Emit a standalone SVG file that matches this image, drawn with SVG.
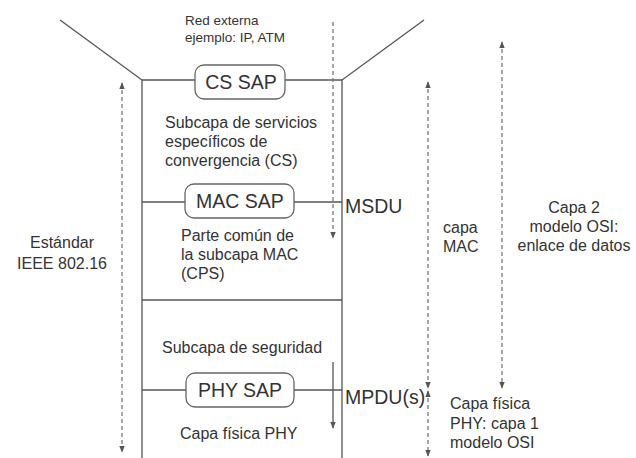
<svg xmlns="http://www.w3.org/2000/svg" width="636" height="458" viewBox="0 0 636 458">
<style>
.ln{stroke:#555;stroke-width:1.3;fill:none}
.sap{fill:#fff;stroke:#666;stroke-width:1.3}
.dash{stroke:#777;stroke-width:1.3;stroke-dasharray:4 3;fill:none}
text{font-family:"Liberation Sans",Arial,sans-serif;fill:#333}
.t16{font-size:16px}
.t12{font-size:13.5px}
.big{font-size:19.5px}
</style>
<defs>
<marker id="ah" viewBox="0 0 10 10" refX="9" refY="5" markerWidth="7" markerHeight="7" orient="auto-start-reverse" markerUnits="userSpaceOnUse">
<path d="M0,1 L10,5 L0,9 Z" fill="#555"/>
</marker>
</defs>
<g id="stack">
<path class="ln" d="M60,20 L142,80 L142,458"/>
<path class="ln" d="M424,20 L342,80 L342,458"/>
<line class="ln" x1="142" y1="80" x2="342" y2="80"/>
<line class="ln" x1="142" y1="202" x2="342" y2="202"/>
<line class="ln" x1="142" y1="300" x2="342" y2="300"/>
<line class="ln" x1="142" y1="390" x2="342" y2="390"/>
</g>
<g id="connectors">
<line class="dash" x1="333" y1="22" x2="333" y2="238" stroke-dasharray="6 2 1 2" marker-end="url(#ah)"/>
<line class="ln" x1="333" y1="362" x2="333" y2="428" marker-end="url(#ah)"/>
<line class="dash" x1="122" y1="83" x2="122" y2="452" marker-start="url(#ah)" marker-end="url(#ah)"/>
<line class="dash" x1="428" y1="82" x2="428" y2="388" marker-start="url(#ah)" marker-end="url(#ah)"/>
<line class="dash" x1="428" y1="391" x2="428" y2="456" marker-start="url(#ah)" marker-end="url(#ah)"/>
<line class="dash" x1="502" y1="42" x2="502" y2="388" marker-start="url(#ah)" marker-end="url(#ah)"/>
</g>
<g id="red-externa">
<text class="t12" x="185" y="25">Red externa</text>
<text class="t12" x="185" y="42">ejemplo: IP, ATM</text>
</g>
<g id="cs-sap">
<rect class="sap" x="195" y="65" width="90" height="34" rx="9"/>
<text class="big" x="241" y="89" text-anchor="middle">CS SAP</text>
</g>
<g id="cs">
<text class="t16" x="165" y="128">Subcapa de servicios</text>
<text class="t16" x="165" y="147">específicos de</text>
<text class="t16" x="165" y="166">convergencia (CS)</text>
</g>
<g id="mac-sap">
<rect class="sap" x="185" y="184" width="109" height="34" rx="9"/>
<text class="big" x="240" y="208" text-anchor="middle">MAC SAP</text>
</g>
<g id="msdu"><text class="big" x="345" y="213">MSDU</text></g>
<g id="cps">
<text class="t16" x="181" y="241">Parte común de</text>
<text class="t16" x="181" y="260">la subcapa MAC</text>
<text class="t16" x="181" y="279">(CPS)</text>
</g>
<g id="seguridad"><text class="t16" x="162" y="353">Subcapa de seguridad</text></g>
<g id="phy-sap">
<rect class="sap" x="186" y="373" width="108" height="34" rx="9"/>
<text class="big" x="240" y="397" text-anchor="middle">PHY SAP</text>
</g>
<g id="mpdu"><text class="big" x="345" y="404">MPDU(s)</text></g>
<g id="phy"><text class="t16" x="180" y="439">Capa física PHY</text></g>
<g id="estandar">
<text class="t16" x="62" y="248" text-anchor="middle">Estándar</text>
<text class="t16" x="62" y="269" text-anchor="middle">IEEE 802.16</text>
</g>
<g id="capa-mac">
<text class="t16" x="443" y="233">capa</text>
<text class="t16" x="443" y="252">MAC</text>
</g>
<g id="capa2">
<text class="t16" x="574" y="213" text-anchor="middle">Capa 2</text>
<text class="t16" x="574" y="232" text-anchor="middle">modelo OSI:</text>
<text class="t16" x="574" y="251" text-anchor="middle">enlace de datos</text>
</g>
<g id="capa1">
<text class="t16" x="450" y="409">Capa física</text>
<text class="t16" x="450" y="429">PHY: capa 1</text>
<text class="t16" x="450" y="448">modelo OSI</text>
</g>
</svg>
